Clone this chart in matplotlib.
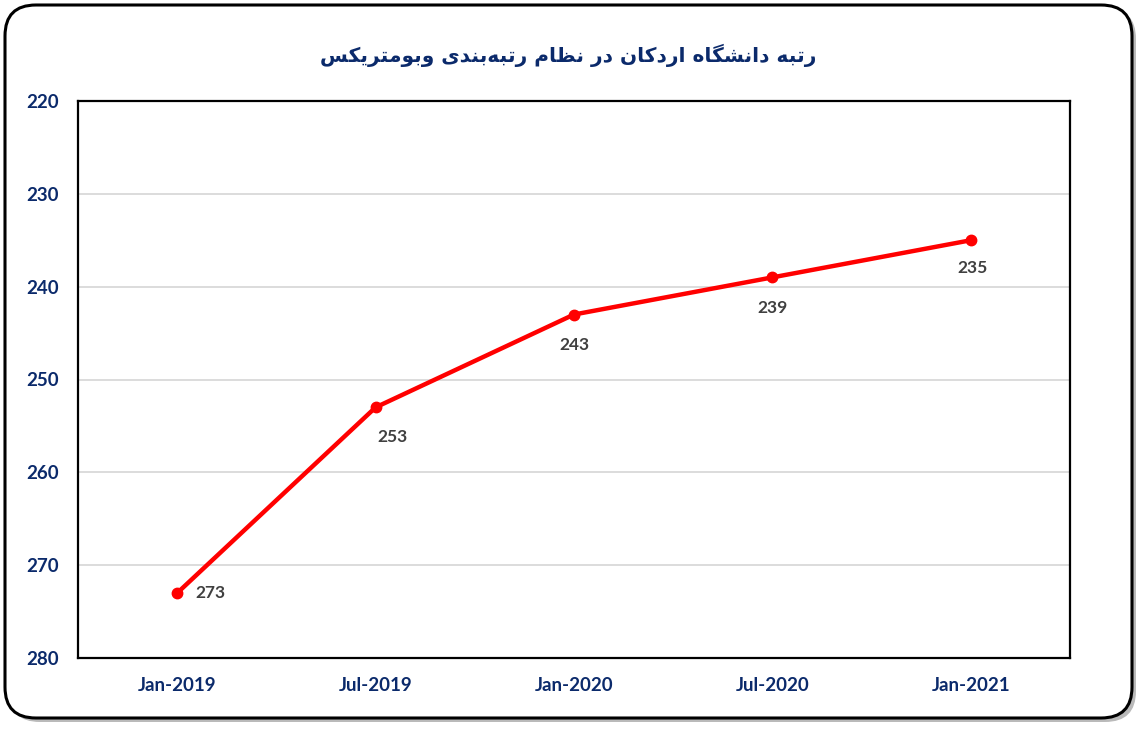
import matplotlib
matplotlib.use("Agg")
import matplotlib.pyplot as plt
from matplotlib.patches import FancyBboxPatch

# data
periods = ["Jan-2019", "Jul-2019", "Jan-2020", "Jul-2020", "Jan-2021"]
ranks = [273, 253, 243, 239, 235]
title_fa = "رتبه دانشگاه اردکان در نظام رتبه\u200cبندی وبومتریکس"

NAVY = "#0B2A6B"
LABEL_GRAY = "#404040"

# minimal Persian shaping (matplotlib does no Arabic joining / RTL)
FORMS = {  # isolated, final, initial, medial
    "ا": ("\uFE8D", "\uFE8E", None, None),
    "د": ("\uFEA9", "\uFEAA", None, None),
    "ر": ("\uFEAD", "\uFEAE", None, None),
    "و": ("\uFEED", "\uFEEE", None, None),
    "ب": ("\uFE8F", "\uFE90", "\uFE91", "\uFE92"),
    "ت": ("\uFE95", "\uFE96", "\uFE97", "\uFE98"),
    "ه": ("\uFEE9", "\uFEEA", "\uFEEB", "\uFEEC"),
    "ن": ("\uFEE5", "\uFEE6", "\uFEE7", "\uFEE8"),
    "ش": ("\uFEB5", "\uFEB6", "\uFEB7", "\uFEB8"),
    "س": ("\uFEB1", "\uFEB2", "\uFEB3", "\uFEB4"),
    "ظ": ("\uFEC5", "\uFEC6", "\uFEC7", "\uFEC8"),
    "م": ("\uFEE1", "\uFEE2", "\uFEE3", "\uFEE4"),
    "گ": ("\uFB92", "\uFB93", "\uFB94", "\uFB95"),
    "ک": ("\uFB8E", "\uFB8F", "\uFB90", "\uFB91"),
    "ی": ("\uFBFC", "\uFBFD", "\uFBFE", "\uFBFF"),
}


def shape_fa(text):
    out = []
    chars = list(text)
    for i, c in enumerate(chars):
        if c not in FORMS:
            out.append(c)
            continue
        prev = chars[i - 1] if i > 0 else None
        nxt = chars[i + 1] if i + 1 < len(chars) else None
        joins_prev = prev in FORMS and FORMS[prev][2] is not None
        joins_next = nxt in FORMS and FORMS[c][2] is not None
        iso, fin, ini, med = FORMS[c]
        if joins_prev and joins_next:
            out.append(med)
        elif joins_prev:
            out.append(fin)
        elif joins_next:
            out.append(ini)
        else:
            out.append(iso)
    s = "".join(out).replace("\u200c", "")
    return s[::-1]


W, H = 1145, 732
fig = plt.figure(figsize=(W / 100, H / 100), dpi=100)

# rounded frame with shadow
shadow = FancyBboxPatch((9 / W, 10 / H), 1127 / W, 714 / H,
                        boxstyle="round,pad=0,rounding_size=0.027",
                        transform=fig.transFigure, facecolor="#8c8c8c",
                        edgecolor="none", alpha=0.6, zorder=0,
                        mutation_aspect=W / H)
fig.patches.append(shadow)
frame = FancyBboxPatch((5 / W, 14 / H), 1127 / W, 713 / H,
                       boxstyle="round,pad=0,rounding_size=0.027",
                       transform=fig.transFigure, facecolor="white",
                       edgecolor="black", linewidth=2.2, zorder=1,
                       mutation_aspect=W / H)
fig.patches.append(frame)

ax = fig.add_axes([78 / W, 74 / H, 992 / W, 557 / H])
ax.set_zorder(2)

x = list(range(len(periods)))
ax.plot(x, ranks, color="#FF0000", linewidth=3.2, marker="o",
        markersize=7.5, solid_capstyle="round", zorder=3)

# label offsets in points (below, except first one to the right)
offsets = [(13, 0, "left", "center"), (1, -21, "left", "center"),
           (0, -22, "center", "center"), (0, -22, "center", "center"),
           (1, -20, "center", "center")]
for xi, v, (dx, dy, ha, va) in zip(x, ranks, offsets):
    ax.annotate(str(v), (xi, v), xytext=(dx, dy), textcoords="offset points",
                ha=ha, va=va, fontsize=12.5, fontweight="bold",
                color=LABEL_GRAY, family="Lato", zorder=4)

ax.set_xlim(-0.5, len(periods) - 0.5)
ax.set_ylim(280, 220)
ax.set_yticks(range(220, 281, 10))
ax.set_xticks(x)
ax.set_xticklabels(periods)
ax.yaxis.grid(True, color="#D9D9D9", linewidth=1.3)
ax.set_axisbelow(True)
for sp in ax.spines.values():
    sp.set_linewidth(1.6)
    sp.set_color("black")
ax.tick_params(length=0)
ax.tick_params(axis="y", pad=14)
ax.tick_params(axis="x", pad=14)
for lab in ax.get_xticklabels() + ax.get_yticklabels():
    lab.set_fontfamily("Lato")
    lab.set_fontweight("bold")
    lab.set_fontsize(13.5)
    lab.set_color(NAVY)

fig.text(568 / W, 1 - 55 / H, shape_fa(title_fa), ha="center", va="center",
         fontsize=14.5, fontweight="bold", color=NAVY,
         family=["DejaVu Sans"], zorder=3)

fig.savefig("out.png", dpi=100)
